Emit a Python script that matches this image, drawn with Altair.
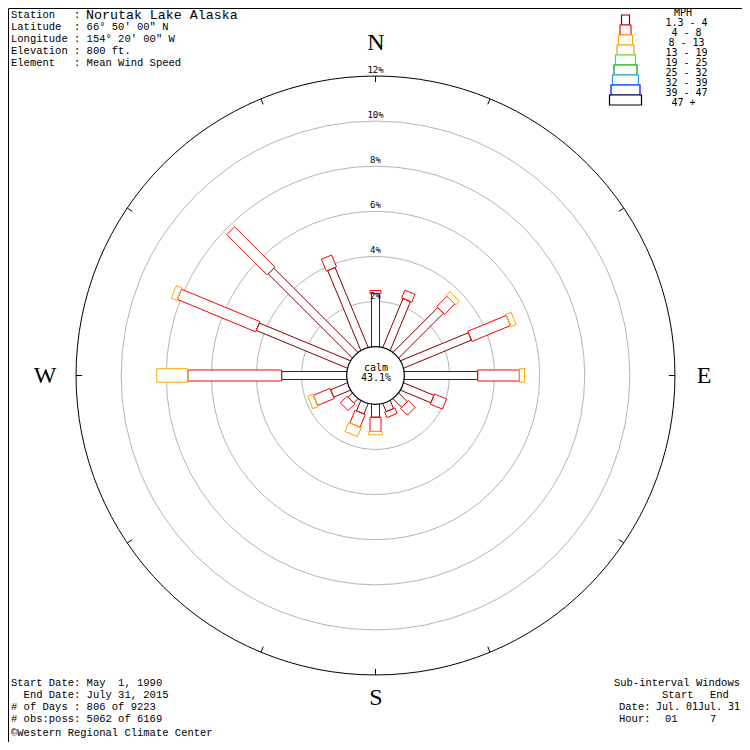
import math
import altair as alt
import pandas as pd

# ---------------- data ----------------
directions = ["N", "NNE", "NE", "ENE", "E", "ESE", "SE", "SSE",
              "S", "SSW", "SW", "WSW", "W", "WNW", "NW", "NNW"]
dir_angle = [0, 22.5, 45, 67.5, 90, 112.5, 135, 157.5,
             180, 202.5, 225, 247.5, 270, 292.5, 315, 337.5]
# percent of observations per speed class (1.3-4, 4-8, 8-13 mph)
pct_c1 = [2.35, 2.34, 2.80, 3.25, 3.25, 1.45, 0.54, 0.38,
          0.57, 0.49, 0.26, 0.80, 2.88, 4.37, 5.27, 3.83]
pct_c2 = [0.14, 0.37, 0.65, 1.85, 1.85, 0.58, 0.42, 0.26,
          0.63, 0.61, 0.42, 0.80, 4.16, 3.76, 2.53, 0.57]
pct_c3 = [0.00, 0.00, 0.23, 0.25, 0.23, 0.00, 0.00, 0.00,
          0.15, 0.43, 0.00, 0.25, 1.38, 0.27, 0.00, 0.00]
calm_pct = 43.1

classes = ["1.3 - 4", "4 - 8", "8 - 13", "13 - 19", "19 - 25",
           "25 - 32", "32 - 39", "39 - 47", "47 +"]
class_colors = ["#880000", "#ff0000", "#ffa500", "#daa520", "#33ee33",
                "#009900", "#1e9bff", "#0000ff", "#000000"]
ring_levels = [2, 4, 6, 8, 10, 12]
tick_angles = [0, 22.5, 56, 90, 124, 157.5, 180, 202.5, 236, 270, 304, 337.5]

header_labels = ["Station   :",
                 "Latitude  : 66\u00b0 50' 00\" N",
                 "Longitude : 154\u00b0 20' 00\" W",
                 "Elevation : 800 ft.",
                 "Element   : Mean Wind Speed"]
station_name = "Norutak Lake Alaska"
footer_labels = ["Start Date: May  1, 1990",
                 "End Date: July 31, 2015",
                 "# of Days : 806 of 9223",
                 "# obs:poss: 5062 of 6169",
                 "\u00a9Western Regional Climate Center"]
footer_indent = [0, 2, 0, 0, 0]

# ---------------- geometry ----------------
PX = 22.55           # pixels per percent
C = 1.28             # radius of the calm circle, in percent units
W = H = 734
CX = CY = 367.5
xdom = [-CX / PX, (W - CX) / PX]
ydom = [-(H - CY) / PX, CY / PX]
xs = alt.Scale(domain=xdom, nice=False, zero=False)
ys = alt.Scale(domain=ydom, nice=False, zero=False)


def ux(px):
    return (px - 8 - CX) / PX


def uy(py):
    return (CY - (py - 8)) / PX


def X(f="x"):
    return alt.X(f"{f}:Q", scale=xs, axis=None)


def Y(f="y"):
    return alt.Y(f"{f}:Q", scale=ys, axis=None)


def nb(s):
    return s.replace(" ", "\u00a0")


rose_width_px = [8, 11, 13.5]

fill_rows, line_rows = [], []
seg = 0
for d, ang in enumerate(dir_angle):
    vals = [pct_c1[d], pct_c2[d], pct_c3[d]]
    cum = 0.0
    t = math.radians(ang)
    u = (math.sin(t), math.cos(t))
    v = (math.cos(t), -math.sin(t))
    for k, val in enumerate(vals):
        if val <= 0:
            continue
        r0 = C + cum if k > 0 else C - 0.3
        r1 = C + cum + val
        cum += val
        h = rose_width_px[k] / 2 / PX
        fill_rows.append(dict(x=r0 * u[0], y=r0 * u[1], x2=r1 * u[0], y2=r1 * u[1],
                              w=rose_width_px[k]))
        pts = [(r0, h), (r1, h), (r1, -h), (r0, -h), (r0, h)]
        for i, (r, s) in enumerate(pts):
            line_rows.append(dict(x=r * u[0] + s * v[0], y=r * u[1] + s * v[1],
                                  seg=seg, vi=i, cls=classes[k]))
        seg += 1

fill_df = pd.DataFrame(fill_rows)
line_df = pd.DataFrame(line_rows)

ring_df = pd.DataFrame({
    "x": [0.0] * len(ring_levels),
    "y": [0.0] * len(ring_levels),
    "s": [(2 * (C + p) * PX) ** 2 for p in ring_levels],
    "col": ["#b4b4b4" if p < 12 else "#000000" for p in ring_levels],
})

tick_rows = []
for a in tick_angles:
    t = math.radians(a)
    R = C + 12
    r2 = R - 6 / PX
    tick_rows.append(dict(x=R * math.sin(t), y=R * math.cos(t),
                          x2=r2 * math.sin(t), y2=r2 * math.cos(t)))
tick_df = pd.DataFrame(tick_rows)

rings = alt.Chart(ring_df).mark_point(shape="circle", filled=False, strokeWidth=1, opacity=1).encode(
    x=X(), y=Y(), size=alt.Size("s:Q", scale=None), color=alt.Color("col:N", scale=None))

ticks = alt.Chart(tick_df).mark_rule(color="black", strokeWidth=1).encode(
    x=X(), y=Y(), x2="x2:Q", y2="y2:Q")

bar_fill = alt.Chart(fill_df).mark_rule(color="white", strokeCap="butt").encode(
    x=X(), y=Y(), x2="x2:Q", y2="y2:Q", size=alt.Size("w:Q", scale=None))

bar_lines = alt.Chart(line_df).mark_line(strokeWidth=1).encode(
    x=X(), y=Y(), detail="seg:N", order=alt.Order("vi:Q"),
    color=alt.Color("cls:N", scale=alt.Scale(domain=classes, range=class_colors), legend=None))

calm_df = pd.DataFrame({"x": [0.0], "y": [0.0], "s": [(2 * C * PX) ** 2]})
calm_circle = alt.Chart(calm_df).mark_point(shape="circle", filled=True, fill="white",
                                            stroke="black", strokeWidth=1.2, opacity=1).encode(
    x=X(), y=Y(), size=alt.Size("s:Q", scale=None))

pct_df = pd.DataFrame({"x": [0.0] * len(ring_levels),
                       "y": [C + p for p in ring_levels],
                       "t": [f"{p}%" for p in ring_levels]})
pct_labels = alt.Chart(pct_df).mark_text(font="DejaVu Sans Mono", fontSize=9, baseline="bottom",
                                         dy=-1, color="black").encode(x=X(), y=Y(), text="t:N")


def text_layer(rows, font, size, align="left", baseline="middle"):
    df = pd.DataFrame(rows, columns=["t", "x", "y"])
    df["t"] = df["t"].map(nb)
    df["x"] = df["x"].map(ux)
    df["y"] = df["y"].map(uy)
    return alt.Chart(df).mark_text(font=font, fontSize=size, align=align,
                                   baseline=baseline, color="black").encode(
        x=X(), y=Y(), text="t:N")


calm_text = text_layer([("calm", 376, 367.5), (f"{calm_pct}%", 376, 378)],
                       "DejaVu Sans Mono", 10, align="center")

compass = text_layer([("N", 376, 43), ("S", 376, 698), ("E", 704, 376), ("W", 45, 376)],
                     "Liberation Serif", 24, align="center")

header = text_layer([(s, 11, 15 + 12 * i) for i, s in enumerate(header_labels)],
                    "Liberation Mono", 10.5)
station = text_layer([(station_name, 86, 15)], "Liberation Mono", 13.3)
footer = text_layer([(s, 11 + 6.3 * footer_indent[i], 683 + 12 * i + (2 if i == 4 else 0))
                     for i, s in enumerate(footer_labels)],
                    "Liberation Mono", 10.5)
sx = -6
sub = text_layer([("Sub-interval Windows", 620 + sx, 683), ("Start", 668 + sx, 695), ("End", 716 + sx, 695),
                  ("Date:", 625 + sx, 707), ("Hour:", 625 + sx, 719), ("01", 671 + sx, 719),
                  ("7", 716 + sx, 719)],
                 "Liberation Mono", 10.5)
sub_dates = text_layer([("Jul. 01", 662 + sx, 707), ("Jul. 31", 704 + sx, 707)], "DejaVu Sans Mono", 10)

# legend boxes
leg_rows = []
for i, (c, col) in enumerate(zip(classes, class_colors)):
    wpx = 8 + 3 * i
    leg_rows.append(dict(x=ux(625.5 - wpx / 2), x2=ux(625.5 + wpx / 2),
                         y=uy(15 + 10 * i), y2=uy(25 + 10 * i), col=col))
leg_df = pd.DataFrame(leg_rows)
leg_boxes = alt.Chart(leg_df).mark_rect(fill="white", strokeWidth=1.2).encode(
    x=X(), y=Y(), x2="x2:Q", y2="y2:Q", stroke=alt.Stroke("col:N", scale=None))

leg_text = text_layer([("MPH", 683, 13)] +
                      [(c, 686.5 if c != "47 +" else 683.5, 22.7 + 10 * i) for i, c in enumerate(classes)],
                      "DejaVu Sans Mono", 10, align="center")

chart = alt.layer(
    rings, ticks, bar_fill, bar_lines, calm_circle, pct_labels, calm_text, compass,
    header, station, footer, sub, sub_dates, leg_boxes, leg_text
).properties(
    width=W, height=H, padding=0, autosize=alt.AutoSizeParams(type="none"),
    background="white"
).configure_view(stroke="black", strokeWidth=1)

chart.save("out.html", embed_options={"renderer": "svg", "actions": False})
